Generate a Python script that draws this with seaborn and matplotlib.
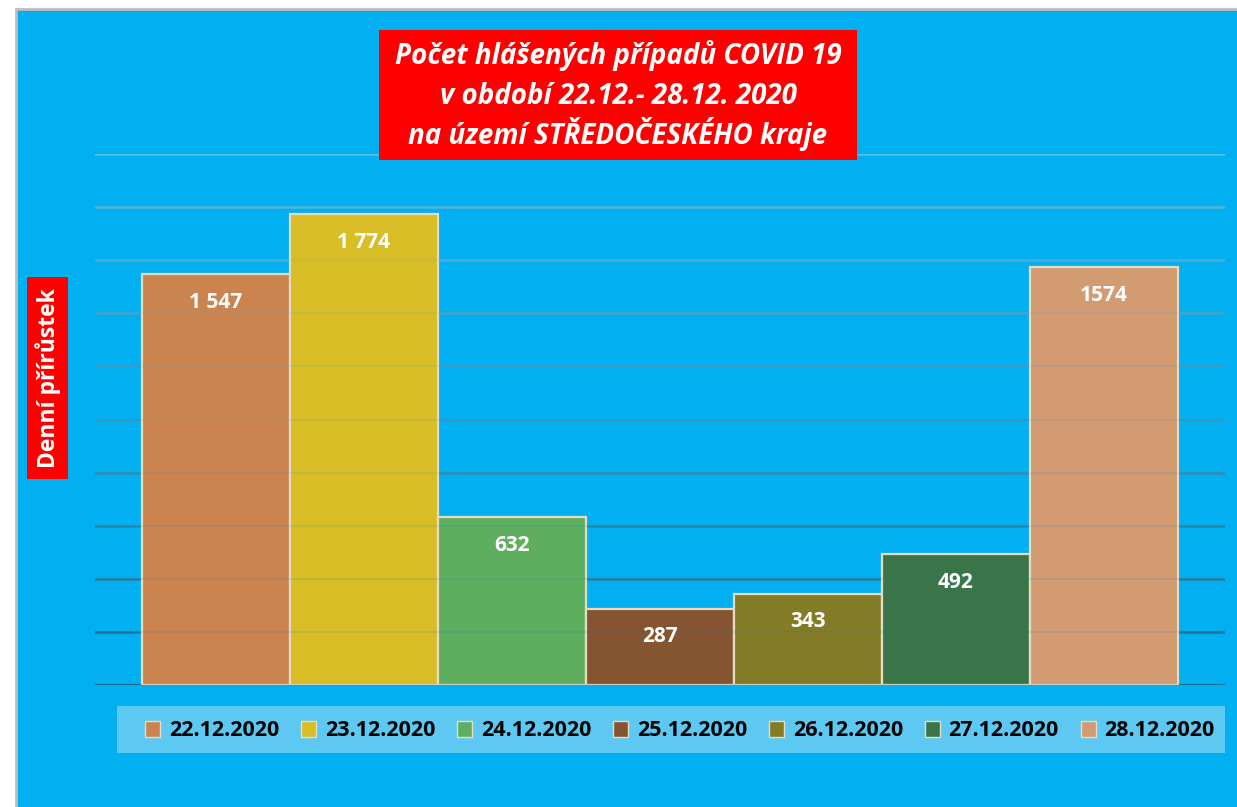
import matplotlib
matplotlib.use("Agg")
import matplotlib.pyplot as plt
import matplotlib.colors as mcolors
from matplotlib.patches import Rectangle
import seaborn as sns
import pandas as pd
import numpy as np

# ---- data ----
dates = ["22.12.2020", "23.12.2020", "24.12.2020", "25.12.2020",
         "26.12.2020", "27.12.2020", "28.12.2020"]
values = [1547, 1774, 632, 287, 343, 492, 1574]
value_labels = ["1 547", "1 774", "632", "287", "343", "492", "1574"]
bar_colors = ["#CB8450", "#D9BD26", "#5FAE60", "#855532",
              "#837B26", "#3A754A", "#D29B72"]
y_ticks = [0, 200, 400, 600, 800, 1000, 1200, 1400, 1600, 1800, 2000]

title_lines = ["Počet hlášených případů COVID 19",
               "v období 22.12.- 28.12. 2020",
               "na území STŘEDOČESKÉHO kraje"]
ylabel_text = "Denní přírůstek"

sns.set_theme(style="white")
plt.rcParams['font.family'] = ['Open Sans', 'DejaVu Sans']

W, H = 1237, 807
fig = plt.figure(figsize=(W / 100, H / 100), dpi=100)
fig.patch.set_facecolor("white")


def px_rect(x0, y0, x1, y1, **kw):
    """Rectangle in figure pixel coords (top-left origin)."""
    return Rectangle((x0 / W, 1 - y1 / H), (x1 - x0) / W, (y1 - y0) / H,
                     transform=fig.transFigure, **kw)


BLUE = "#02AFF0"
# chart area background with gray border
fig.add_artist(px_rect(16, 9, W + 5, H + 5, facecolor=BLUE, edgecolor="#BEBEBE",
                       linewidth=2, zorder=0))

ax = fig.add_axes([95 / W, 1 - 685 / H, (1225 - 95) / W, (685 - 154) / H])
ax.set_facecolor("none")

df = pd.DataFrame({"date": dates, "value": values})
sns.barplot(data=df, x="date", y="value", hue="date", palette=bar_colors,
            width=1.0, dodge=False, legend=False, ax=ax,
            edgecolor="#E6DCC3", linewidth=1.6, saturation=1, zorder=3)

ax.set_ylim(0, 2000)
ax.set_xlim(-0.818, 6.818)

# gradient gridlines (lighter at top, darker at bottom)
c_top = np.array(mcolors.to_rgb("#56BDE6"))
c_bot = np.array(mcolors.to_rgb("#176E8F"))
for t in y_ticks:
    f = t / 2000
    col = c_bot * (1 - f) + c_top * f
    ax.axhline(t, color=col, linewidth=2.2 if t == 0 else 1.8, zorder=1)
    ax.axhline(t, color=col, linewidth=1.5, alpha=0.12, zorder=4)

for s in ax.spines.values():
    s.set_visible(False)
ax.set_xticks([])
ax.set_yticks([])
ax.set_xlabel("")
ax.set_ylabel("")

# value labels
for i, (v, lab) in enumerate(zip(values, value_labels)):
    ax.annotate(lab, xy=(i, v), xytext=(0, -28), textcoords="offset pixels",
                ha="center", va="center", color="white", fontsize=15,
                fontweight="bold", zorder=5)

# title box
fig.add_artist(px_rect(379, 30, 857, 160, facecolor="#FF0000", edgecolor="none", zorder=5))
for k, line in enumerate(title_lines):
    fig.text(618 / W, 1 - (64 + 40 * k) / H, line, ha="center", va="baseline",
             color="white", fontsize=20, fontweight="bold", fontstyle="italic",
             zorder=6)

# y label box
fig.add_artist(px_rect(27, 277, 68, 479, facecolor="#FF0000", edgecolor="none", zorder=5))
fig.text(48 / W, 1 - 378 / H, ylabel_text, ha="center", va="center",
         rotation=90, color="white", fontsize=16.5, fontweight="bold", zorder=6)

# legend band
fig.add_artist(px_rect(117, 706, 1225, 753, facecolor="#5DC9F2",
                       edgecolor="none", zorder=1))
handles = [Rectangle((0, 0), 1, 1, facecolor=c, edgecolor="#E6DCC3", linewidth=1)
           for c in bar_colors]
leg = fig.legend(handles, dates, loc="center", bbox_to_anchor=(680 / W, 1 - 731 / H),
                 ncol=7, frameon=False, handlelength=0.7, handleheight=0.7,
                 handletextpad=0.4, columnspacing=1.02,
                 prop=dict(family=['Open Sans', 'DejaVu Sans'], weight="bold", size=15.5))
for t in leg.get_texts():
    t.set_color("black")

fig.savefig("out.png", dpi=100, facecolor=fig.get_facecolor())
